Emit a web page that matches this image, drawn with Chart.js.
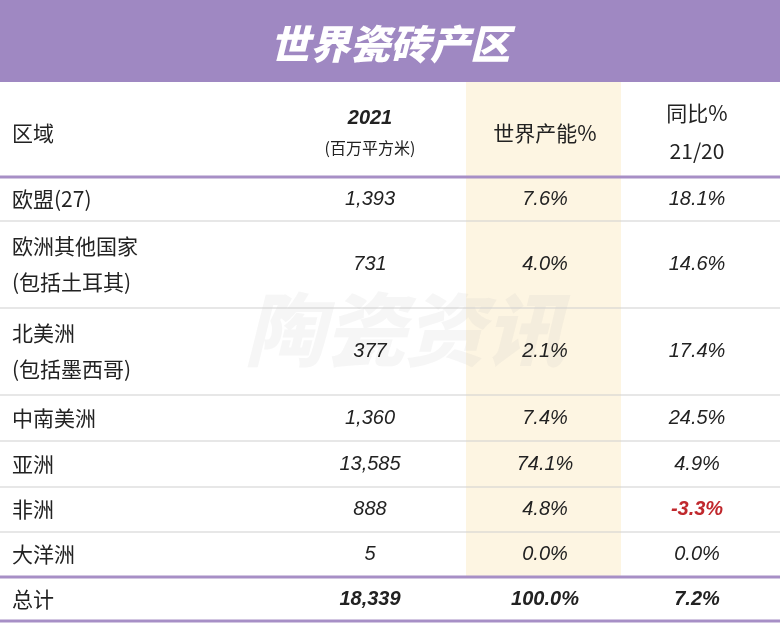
<!DOCTYPE html>
<html><head><meta charset="utf-8">
<script src="https://cdn.jsdelivr.net/npm/chart.js@4.4.1/dist/chart.umd.min.js"></script>
<style>html,body{margin:0;padding:0;background:#fff}</style>
</head><body>
<canvas id="c" width="780" height="629"></canvas>
<script>
const title = "世界瓷砖产区";
const headers = [["区域"], ["2021", "(百万平方米)"], ["世界产能%"], ["同比%", "21/20"]];
const regions = [["欧盟(27)"], ["欧洲其他国家", "(包括土耳其)"], ["北美洲", "(包括墨西哥)"], ["中南美洲"], ["亚洲"], ["非洲"], ["大洋洲"], ["总计"]];
const output = ["1,393", "731", "377", "1,360", "13,585", "888", "5", "18,339"];
const share = ["7.6%", "4.0%", "2.1%", "7.4%", "74.1%", "4.8%", "0.0%", "100.0%"];
const yoy = ["18.1%", "14.6%", "17.4%", "24.5%", "4.9%", "-3.3%", "0.0%", "7.2%"];

const L = { titleBottom: 82, rowBounds: [177, 221, 308, 395, 441, 487, 532, 577, 621],
  colLabel: 12, colCenters: [370, 545, 697], hiLeft: 466, hiRight: 621 };

const tablePlugin = {
  id: 'table',
  afterDraw(chart) {
    const ctx = chart.ctx, xs = chart.scales.x, ys = chart.scales.y;
    const X = v => xs.getPixelForValue(v), Y = v => ys.getPixelForValue(v);
    const F = '"Noto Sans CJK SC","Noto Sans",sans-serif';
    ctx.save();
    ctx.fillStyle = '#fdf5e2';
    ctx.fillRect(X(L.hiLeft), Y(L.titleBottom), X(L.hiRight) - X(L.hiLeft), Y(L.rowBounds[7]) - Y(L.titleBottom));
    ctx.fillStyle = '#9f88c2';
    ctx.fillRect(X(0), Y(0), X(780) - X(0), Y(L.titleBottom) - Y(0));
    ctx.fillStyle = '#fff';
    ctx.font = 'italic 900 40px ' + F;
    ctx.textAlign = 'center'; ctx.textBaseline = 'middle';
    ctx.fillText(title, X(390), Y(44));
    ctx.fillStyle = 'rgba(190,190,190,0.14)';
    ctx.font = 'italic 900 80px ' + F;
    ctx.fillText('陶瓷资讯', X(405), Y(330));
    ctx.fillStyle = '#222';
    ctx.font = '21px ' + F; ctx.textAlign = 'left';
    ctx.fillText(headers[0][0], X(L.colLabel), Y(133));
    ctx.textAlign = 'center';
    ctx.font = 'italic bold 20px "Liberation Sans",sans-serif';
    ctx.fillText(headers[1][0], X(L.colCenters[0]), Y(118));
    ctx.font = '16px ' + F;
    ctx.fillText(headers[1][1], X(L.colCenters[0]), Y(148));
    ctx.font = '21px ' + F;
    ctx.fillText(headers[2][0], X(L.colCenters[1]), Y(133));
    ctx.fillText(headers[3][0], X(L.colCenters[2]), Y(113));
    ctx.fillText(headers[3][1], X(L.colCenters[2]), Y(151));
    const hline = (y, c, w) => { ctx.strokeStyle = c; ctx.lineWidth = w; ctx.beginPath(); ctx.moveTo(X(0), Y(y)); ctx.lineTo(X(780), Y(y)); ctx.stroke(); };
    L.rowBounds.forEach((b, i) => {
      if (i === 0 || i === 7 || i === 8) hline(b, '#a78fc6', 3); else hline(b, '#cfcfcf', 1);
    });
    regions.forEach((r, i) => {
      const top = L.rowBounds[i], bot = L.rowBounds[i + 1], mid = (top + bot) / 2;
      const total = i === regions.length - 1;
      ctx.fillStyle = '#222'; ctx.textAlign = 'left';
      ctx.font = '21px ' + F;
      if (r.length === 2) { ctx.fillText(r[0], X(L.colLabel), Y(mid - 18)); ctx.fillText(r[1], X(L.colLabel), Y(mid + 18)); }
      else ctx.fillText(r[0], X(L.colLabel), Y(mid));
      ctx.textAlign = 'center';
      ctx.font = (total ? 'italic bold ' : 'italic ') + '20px "Liberation Sans",sans-serif';
      ctx.fillText(output[i], X(L.colCenters[0]), Y(mid));
      ctx.fillText(share[i], X(L.colCenters[1]), Y(mid));
      const neg = yoy[i].startsWith('-');
      ctx.fillStyle = neg ? '#c0282d' : '#222';
      ctx.font = (total || neg ? 'italic bold ' : 'italic ') + '20px "Liberation Sans",sans-serif';
      ctx.fillText(yoy[i], X(L.colCenters[2]), Y(mid));
    });
    ctx.restore();
  }
};

new Chart(document.getElementById('c'), {
  type: 'scatter',
  data: { datasets: [{ data: [] }] },
  options: {
    responsive: false, animation: false, devicePixelRatio: 1,
    layout: { padding: 0 },
    plugins: { legend: { display: false }, tooltip: { enabled: false } },
    scales: {
      x: { type: 'linear', min: 0, max: 780, display: false },
      y: { type: 'linear', min: 0, max: 629, reverse: true, display: false }
    }
  },
  plugins: [tablePlugin]
});
</script>
</body></html>
